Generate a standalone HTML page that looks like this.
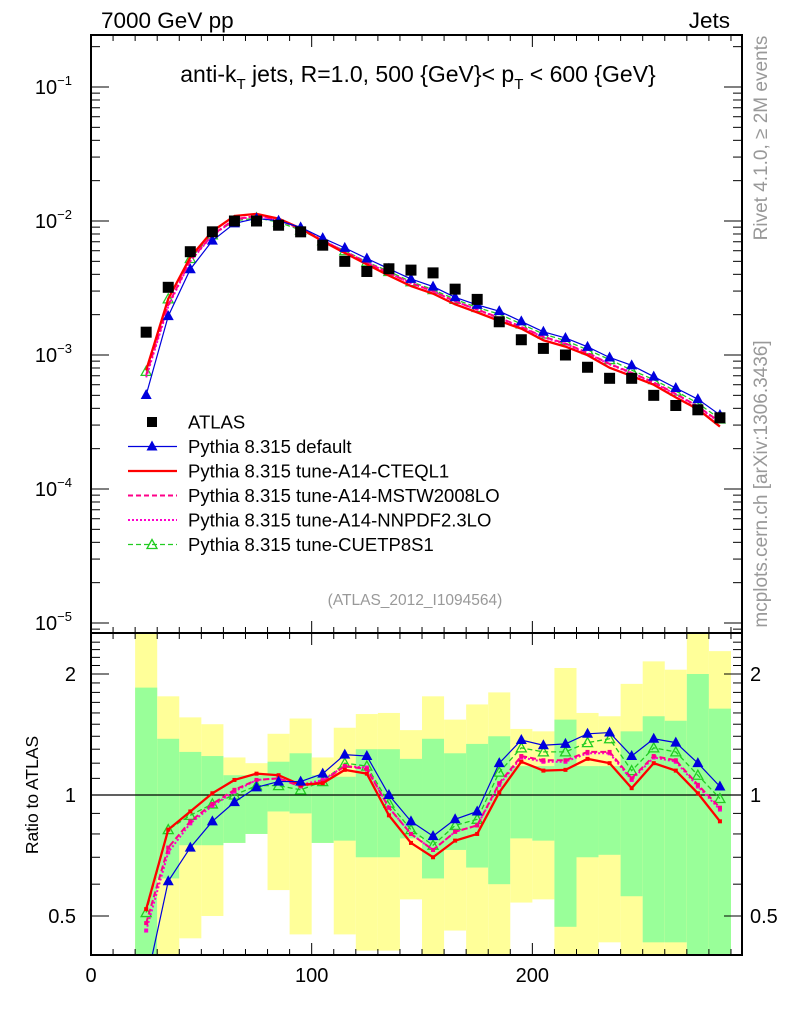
<!DOCTYPE html>
<html><head><meta charset="utf-8">
<style>
html,body{margin:0;padding:0;background:#fff;}
svg{display:block;font-family:"Liberation Sans",sans-serif;}
</style></head>
<body>
<svg id="chart" width="786" height="1024" viewBox="0 0 786 1024" xmlns="http://www.w3.org/2000/svg">
<g id="bands"></g>
<g id="marks"></g>
<g id="axes"></g>
<text x="101" y="28" font-size="22.5">7000 GeV pp</text>
<text x="730" y="28" font-size="22.5" text-anchor="end">Jets</text>
<text x="418" y="82" font-size="23" text-anchor="middle">anti-k<tspan font-size="15" dy="7">T</tspan><tspan dy="-7"> jets, R=1.0, 500 {GeV}&lt; p</tspan><tspan font-size="15" dy="7">T</tspan><tspan dy="-7"> &lt; 600 {GeV}</tspan></text>
<text x="415" y="605" font-size="15.5" fill="#999" text-anchor="middle">(ATLAS_2012_I1094564)</text>
<text transform="translate(767,138) rotate(-90)" font-size="19" fill="#999" text-anchor="middle">Rivet 4.1.0, ≥ 2M events</text>
<text transform="translate(767,484) rotate(-90)" font-size="19" fill="#999" text-anchor="middle">mcplots.cern.ch [arXiv:1306.3436]</text>
<text transform="translate(38,795) rotate(-90)" font-size="17.5" text-anchor="middle">Ratio to ATLAS</text>
<g id="legend"></g>
</svg>
<script>
const xCenters=[25,35,45,55,65,75,85,95,105,115,125,135,145,155,165,175,185,195,205,215,225,235,245,255,265,275,285];
const atlas=[1.48e-3,3.2e-3,5.9e-3,8.3e-3,1.0e-2,1.0e-2,9.3e-3,8.3e-3,6.6e-3,5.0e-3,4.2e-3,4.4e-3,4.3e-3,4.1e-3,3.1e-3,2.6e-3,1.77e-3,1.3e-3,1.12e-3,1.0e-3,8.1e-4,6.7e-4,6.7e-4,5.0e-4,4.2e-4,3.9e-4,3.4e-4];
const rDefault=[0.34,0.61,0.74,0.86,0.96,1.045,1.08,1.08,1.13,1.26,1.25,1.0,0.86,0.79,0.87,0.91,1.20,1.37,1.33,1.34,1.42,1.43,1.25,1.38,1.35,1.20,1.05];
const rCTEQ=[0.52,0.82,0.91,1.01,1.09,1.13,1.12,1.06,1.07,1.155,1.13,0.89,0.76,0.70,0.77,0.80,1.015,1.21,1.15,1.155,1.23,1.20,1.04,1.20,1.15,1.01,0.86];
const rMSTW=[0.48,0.74,0.86,0.95,1.03,1.09,1.1,1.05,1.08,1.18,1.16,0.93,0.80,0.73,0.81,0.84,1.07,1.25,1.22,1.22,1.28,1.28,1.10,1.25,1.22,1.06,0.93];
const rNNPDF=[0.46,0.72,0.85,0.94,1.02,1.09,1.1,1.06,1.09,1.18,1.17,0.93,0.80,0.73,0.81,0.84,1.06,1.24,1.21,1.21,1.27,1.27,1.09,1.24,1.21,1.05,0.92];
const rCUETP=[0.51,0.82,0.89,0.95,1.0,1.055,1.055,1.03,1.08,1.20,1.18,0.955,0.82,0.75,0.84,0.87,1.14,1.31,1.28,1.28,1.35,1.38,1.15,1.31,1.28,1.12,0.98];
const greenUp=[1.85,1.38,1.28,1.25,1.12,1.12,1.21,1.27,1.12,1.11,1.30,1.30,1.23,1.38,1.27,1.34,1.40,1.18,1.18,1.54,1.18,1.18,1.44,1.57,1.53,2.0,1.64];
const greenLo=[0.3,0.62,0.75,0.75,0.76,0.80,0.91,0.90,0.76,0.77,0.70,0.70,0.78,0.62,0.73,0.66,0.60,0.78,0.77,0.47,0.70,0.71,0.56,0.43,0.43,0.3,0.3];
const yellowUp=[3,1.76,1.56,1.50,1.24,1.20,1.42,1.55,1.24,1.47,1.59,1.60,1.45,1.76,1.54,1.68,1.80,1.46,1.44,2.07,1.60,1.57,1.89,2.15,2.05,3,2.28];
const yellowLo=[0.3,0.3,0.44,0.50,0.76,0.80,0.58,0.45,0.76,0.45,0.41,0.41,0.55,0.3,0.46,0.3,0.3,0.54,0.55,0.3,0.3,0.43,0.3,0.3,0.3,0.3,0.3];
const xTicks=[0,100,200];
const mainYTicks=[-1,-2,-3,-4,-5];
const ratioTicks=[0.5,1,2];

const NS='http://www.w3.org/2000/svg';
const X0=91,X1=742,XMAX=295;
const MT=35,MB=633,RT=633,RB=955;
const sx=v=>X0+v*(X1-X0)/XMAX;
const syMain=v=>221-(Math.log10(v)+2)*134;
const syR=r=>{const y=795-Math.log2(r)*121;return Math.max(RT,Math.min(RB,y));};
function el(tag,attrs,parent){const e=document.createElementNS(NS,tag);for(const k in attrs)e.setAttribute(k,attrs[k]);parent.appendChild(e);return e;}
const bands=document.getElementById('bands'),marks=document.getElementById('marks'),axes=document.getElementById('axes'),legend=document.getElementById('legend');

for(let i=0;i<xCenters.length;i++){
  const xa=sx(xCenters[i]-5),xb=sx(xCenters[i]+5);
  const y1=syR(yellowUp[i]),y2=syR(yellowLo[i]);
  const r=el('rect',{x:xa,y:y1,width:xb-xa,height:y2-y1,fill:'#ffff99'},bands);
  
  
  const g1=syR(greenUp[i]),g2=syR(greenLo[i]);
  const g=el('rect',{x:xa,y:g1,width:xb-xa,height:g2-g1,fill:'#99ff99'},bands);
  
  
}
el('line',{x1:X0,x2:X1,y1:syR(1),y2:syR(1),stroke:'#000','stroke-width':1.2},bands);

const series=[
 {name:'pythia-cuetp8s1',r:rCUETP,color:'#22cc22',w:1.3,dash:'5,3',marker:'open-tri'},
 {name:'pythia-a14-nnpdf',r:rNNPDF,color:'#ff00cc',w:2,dash:'2,2',marker:'dot'},
 {name:'pythia-a14-mstw',r:rMSTW,color:'#ff0088',w:2,dash:'6,3',marker:'dot'},
 {name:'pythia-a14-cteql1',r:rCTEQ,color:'#ff0000',w:2.3,dash:'',marker:'dot'},
 {name:'pythia-default',r:rDefault,color:'#0000dd',w:1.2,dash:'',marker:'tri'}
];
function marker(type,x,y,color,parent){
  if(type==='tri'){el('polygon',{points:`${x},${y-6} ${x-5.5},${y+4} ${x+5.5},${y+4}`,fill:color},parent);}
  else if(type==='open-tri'){el('polygon',{points:`${x},${y-5} ${x-5},${y+4} ${x+5},${y+4}`,fill:'none',stroke:color,'stroke-width':1.3},parent);}
  else {el('rect',{x:x-2,y:y-2,width:4,height:4,fill:color},parent);}
}
const defs=el('defs',{},document.getElementById('chart'));
const cpm=el('clipPath',{id:'cm'},defs);el('rect',{x:X0,y:MT,width:X1-X0,height:MB-MT},cpm);
const cpr=el('clipPath',{id:'cr'},defs);el('rect',{x:X0,y:RT,width:X1-X0,height:RB-RT},cpr);
const gMain=el('g',{'clip-path':'url(#cm)'},marks);
const gRat=el('g',{'clip-path':'url(#cr)'},marks);
series.forEach(s=>{
  const ptsM=xCenters.map((x,i)=>sx(x)+','+syMain(atlas[i]*s.r[i])).join(' ');
  const pl=el('polyline',{points:ptsM,fill:'none',stroke:s.color,'stroke-width':s.w,'stroke-dasharray':s.dash},gMain);
  
  
  const ptsR=xCenters.map((x,i)=>sx(x)+','+(795-Math.log2(s.r[i])*121)).join(' ');
  const pr=el('polyline',{points:ptsR,fill:'none',stroke:s.color,'stroke-width':s.w,'stroke-dasharray':s.dash},gRat);
  
  
  xCenters.forEach((x,i)=>{
    if(s.marker!=='dot'){marker(s.marker,sx(x),syMain(atlas[i]*s.r[i]),s.color,gMain);}
    marker(s.marker,sx(x),795-Math.log2(s.r[i])*121,s.color,gRat);
  });
});
xCenters.forEach((x,i)=>{
  const r=el('rect',{x:sx(x)-5.5,y:syMain(atlas[i])-5.5,width:11,height:11,fill:'#000'},gMain);
  
  
});

el('rect',{x:X0,y:MT,width:X1-X0,height:MB-MT,fill:'none',stroke:'#000','stroke-width':2},axes);
el('rect',{x:X0,y:RT,width:X1-X0,height:RB-RT,fill:'none',stroke:'#000','stroke-width':2},axes);
for(let v=0;v<=XMAX;v+=10){
  const big=v%100===0,len=big?12:6,x=sx(v);
  [[MB,-1],[MT,1],[RB,-1],[RT,1]].forEach(([y,d])=>el('line',{x1:x,x2:x,y1:y,y2:y+d*len,stroke:'#000','stroke-width':1},axes));
}
xTicks.forEach(v=>{
  const t=el('text',{x:sx(v),y:982,'font-size':20,'text-anchor':'middle'},axes);t.textContent=v;
  
  
});
for(let d=-6;d<=-1;d++){
  for(let m=1;m<10;m++){
    const y=syMain(m*Math.pow(10,d));
    if(y<MT||y>MB)continue;
    const len=m===1?18:9;
    el('line',{x1:X0,x2:X0+len,y1:y,y2:y,stroke:'#000'},axes);
    el('line',{x1:X1,x2:X1-len,y1:y,y2:y,stroke:'#000'},axes);
  }
}
mainYTicks.forEach(d=>{
  const t=el('text',{x:72,y:syMain(Math.pow(10,d))+7,'font-size':20,'text-anchor':'end'},axes);
  t.textContent='10';
  
  
  const s=el('tspan',{dy:-9,'font-size':13},t);s.textContent='−'+(-d);
});
for(let k=3;k<=24;k++){
  const r=k/10;
  const y=795-Math.log2(r)*121;
  if(y<RT||y>RB)continue;
  const major=(k===5||k===10||k===20);
  const len=major?18:9;
  el('line',{x1:X0,x2:X0+len,y1:y,y2:y,stroke:'#000'},axes);
  el('line',{x1:X1,x2:X1-len,y1:y,y2:y,stroke:'#000'},axes);
}
ratioTicks.forEach(r=>{
  const y=795-Math.log2(r)*121+7;
  const a=el('text',{x:76,y:y,'font-size':20,'text-anchor':'end'},axes);a.textContent=r;
  
  
  const b=el('text',{x:750,y:y,'font-size':20},axes);b.textContent=r;
  
  
});

const leg=[
 {label:'ATLAS',kind:'sq',color:'#000',dash:''},
 {label:'Pythia 8.315 default',kind:'tri',color:'#0000dd',dash:'',w:1.2},
 {label:'Pythia 8.315 tune-A14-CTEQL1',kind:'line',color:'#ff0000',dash:'',w:2.3},
 {label:'Pythia 8.315 tune-A14-MSTW2008LO',kind:'line',color:'#ff0088',dash:'5,3',w:2},
 {label:'Pythia 8.315 tune-A14-NNPDF2.3LO',kind:'line',color:'#ff00cc',dash:'2,2',w:2},
 {label:'Pythia 8.315 tune-CUETP8S1',kind:'open-tri',color:'#22cc22',dash:'5,3',w:1.3}
];
leg.forEach((e,i)=>{
  const y=422+i*24.5;
  const g=el('g',{},legend);
  
  
  if(e.kind==='sq'){el('rect',{x:147,y:y-5,width:10,height:10,fill:'#000'},g);}
  else{
    el('line',{x1:128,x2:177,y1:y,y2:y,stroke:e.color,'stroke-width':e.w,'stroke-dasharray':e.dash},g);
    if(e.kind==='tri')marker('tri',152,y,e.color,g);
    if(e.kind==='open-tri')marker('open-tri',152,y,e.color,g);
  }
  const t=el('text',{x:188,y:y+6.5,'font-size':18.5},g);t.textContent=e.label;
});
</script>
</body></html>
